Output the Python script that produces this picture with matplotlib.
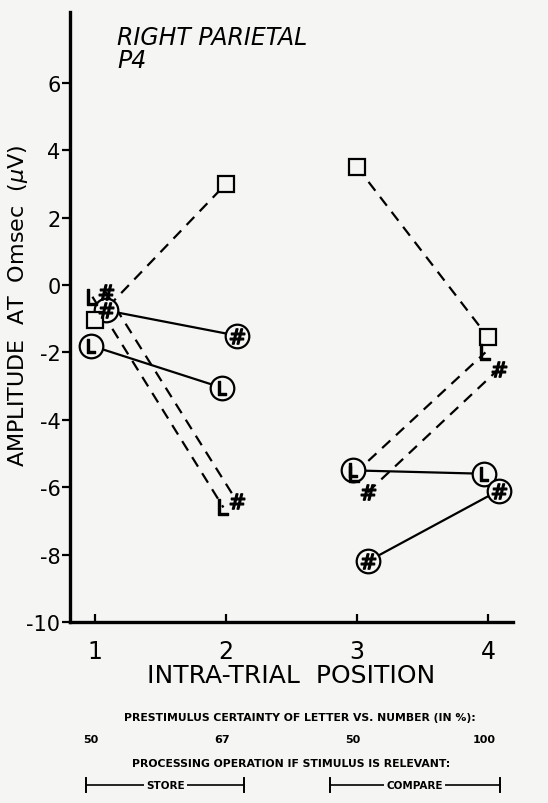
import numpy as np
import matplotlib
matplotlib.use('Agg')
import matplotlib.pyplot as plt
from matplotlib import transforms

# ----------------------------------------------------------------
# Data (amplitude at 0 msec, microvolts)
# ----------------------------------------------------------------
pos_store   = [1, 2]
pos_compare = [3, 4]

# solid lines, circled markers
circ_L_store      = [-1.8, -3.05]
circ_L_compare    = [-5.5, -5.6]
circ_hash_store   = [-0.75, -1.5]
circ_hash_compare = [-8.2, -6.1]

# dashed lines, plain markers
sq_store     = [-1.05, 3.0]
sq_compare   = [3.5, -1.55]
L_store      = [-0.35, -6.6]
L_compare    = [-5.6, -2.0]
hash_store   = [-0.2, -6.4]
hash_compare = [-6.15, -2.5]

yticks = [6, 4, 2, 0, -2, -4, -6, -8, -10]
xticks = [1, 2, 3, 4]
certainty = ['50', '67', '50', '100']

# small horizontal offsets used in the original to separate markers
off = {'circL': -0.03, 'circH': 0.08, 'sq': 0.0, 'L': -0.02, 'H': 0.08}

bg = '#f5f5f3'
fig = plt.figure(figsize=(5.48, 8.04), dpi=100, facecolor=bg)
ax = fig.add_axes([0.128, 0.225, 0.808, 0.759])
ax.set_facecolor(bg)

def series(xs, ys, dx, ls, kind):
    x = np.array(xs) + dx
    ax.plot(x, ys, color='k', ls=ls, lw=1.6, dashes=(5, 3.5) if ls == '--' else (None, None),
            zorder=2)
    if kind == 'circL':
        ax.plot(x, ys, 'o', ms=17, mfc=bg, mec='k', mew=1.6, zorder=3)
        ax.plot(x, ys, marker='$\\mathrm{L}$', ms=10, color='k', ls='none', zorder=4)
    elif kind == 'circH':
        ax.plot(x, ys, 'o', ms=17, mfc=bg, mec='k', mew=1.6, zorder=3)
        ax.plot(x, ys, marker='$\\#$', ms=11, color='k', ls='none', zorder=4)
    elif kind == 'sq':
        ax.plot(x, ys, 's', ms=11, mfc=bg, mec='k', mew=1.6, ls='none', zorder=3)
    elif kind == 'L':
        ax.plot(x, ys, marker='$\\mathrm{L}$', ms=11, color='k', ls='none', zorder=3)
    elif kind == 'H':
        ax.plot(x, ys, marker='$\\#$', ms=11, color='k', ls='none', zorder=3)

for xs, a, b in [(pos_store, circ_L_store, circ_hash_store),
                 (pos_compare, circ_L_compare, circ_hash_compare)]:
    series(xs, a, off['circL'], '-', 'circL')
    series(xs, b, off['circH'], '-', 'circH')

for xs, s, l, h in [(pos_store, sq_store, L_store, hash_store),
                    (pos_compare, sq_compare, L_compare, hash_compare)]:
    series(xs, s, off['sq'], '--', 'sq')
    series(xs, l, off['L'], '--', 'L')
    series(xs, h, off['H'], '--', 'H')

ax.set_xlim(0.81, 4.19)
ax.set_ylim(-10, 8.1)
ax.spines['top'].set_visible(False)
ax.spines['right'].set_visible(False)
for s in ['left', 'bottom']:
    ax.spines[s].set_linewidth(2.4)
ax.set_yticks(yticks)
ax.set_yticklabels([str(t) for t in yticks], fontsize=15)
ax.set_xticks(xticks)
ax.set_xticklabels([str(t) for t in xticks], fontsize=17)
ax.tick_params(axis='y', direction='out', length=6, width=1.6, pad=1)
ax.tick_params(axis='x', direction='in', length=6, width=1.6, pad=12)

ax.set_xlabel('INTRA-TRIAL  POSITION', fontsize=18, labelpad=0)
ax.set_ylabel('AMPLITUDE  AT  Omsec  ($\\mu$V)', fontsize=16)
ax.yaxis.set_label_coords(-0.09, 0.52)

ax.text(1.17, 7.7, 'RIGHT PARIETAL\nP4', fontsize=17, style='italic',
        va='top', ha='left', linespacing=0.95)

# annotations under the axis: x in data units, y in figure units
tr = transforms.blended_transform_factory(ax.transData, fig.transFigure)
ax.text(2.56, 1 - 718 / 804, 'PRESTIMULUS CERTAINTY OF LETTER VS. NUMBER (IN %):',
        transform=tr, ha='center', va='center', fontsize=7.8, weight='bold')
for xv, lab in zip(xticks, certainty):
    ax.text(xv - 0.03, 1 - 740 / 804, lab, transform=tr, ha='center', va='center',
            fontsize=8, weight='bold')
ax.text(2.5, 1 - 764 / 804, 'PROCESSING OPERATION IF STIMULUS IS RELEVANT:',
        transform=tr, ha='center', va='center', fontsize=7.8, weight='bold')

yb = 1 - 786 / 804
for x0, x1, lab in [(0.93, 2.14, 'STORE'), (2.79, 4.09, 'COMPARE')]:
    xm = (x0 + x1) / 2
    ax.plot([x0, x1], [yb, yb], color='k', lw=1.2, transform=tr, clip_on=False)
    for xe in (x0, x1):
        ax.plot([xe, xe], [yb - 0.009, yb + 0.009], color='k', lw=1.4,
                transform=tr, clip_on=False)
    ax.text(xm, yb, lab, transform=tr, ha='center', va='center', fontsize=7.5,
            weight='bold', bbox=dict(facecolor=bg, edgecolor='none', pad=1.5))

fig.savefig('out.png', dpi=100, facecolor=bg)
